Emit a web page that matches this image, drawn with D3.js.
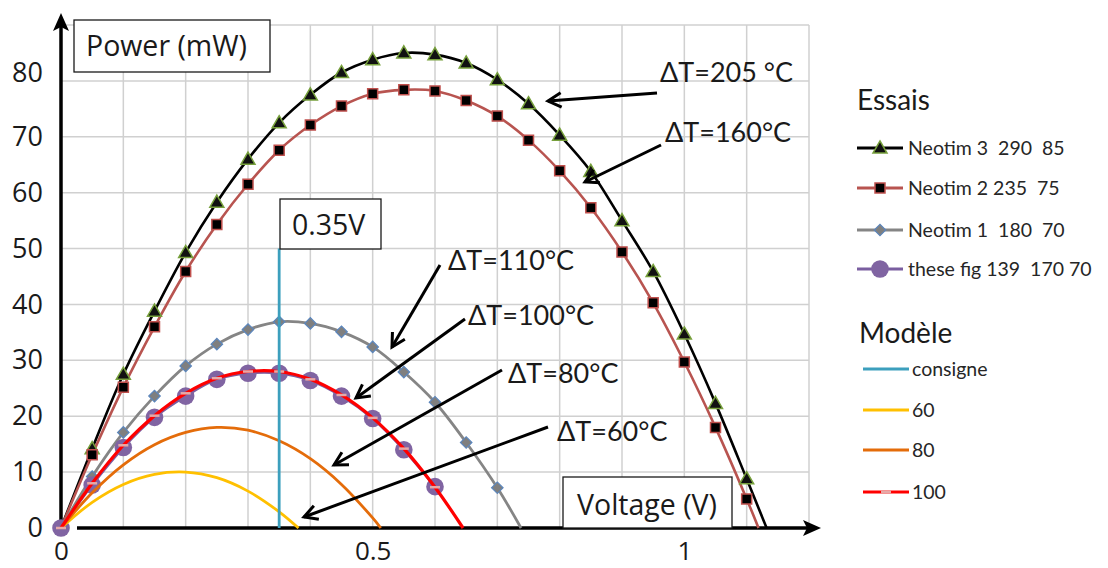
<!DOCTYPE html>
<html><head><meta charset="utf-8">
<script src="https://cdn.jsdelivr.net/npm/d3@7"></script>
<style>
html,body{margin:0;padding:0;background:#fff;}
svg{display:block;}
text{white-space:pre;}
</style></head>
<body><svg id="c" width="1108" height="568"></svg>
<script>
// ---------- data ----------
const xTickLabels = [0, 0.5, 1];
const yTickLabels = [0, 10, 20, 30, 40, 50, 60, 70, 80];
const gridV = [0.1,0.2,0.3,0.4,0.5,0.6,0.7,0.8,0.9,1.0,1.1,1.2];
const gridP = [10,20,30,40,50,60,70,80,90];

const seriesNames = ["Neotim 3  290  85", "Neotim 2 235  75", "Neotim 1  180  70", "these fig 139  170 70"];
const modelNames = ["consigne", "60", "80", "100"];

// measured voltages (V)
const neotim3V = [0.05,0.1,0.15,0.2,0.25,0.3,0.35,0.4,0.45,0.5,0.55,0.6,0.65,0.7,0.75,0.8,0.85,0.9,0.95,1.0,1.05,1.1];
const neotim3P = [14.2,27.5,38.8,49.3,58.3,66.0,72.5,77.5,81.5,83.8,85.0,84.7,83.2,80.2,75.9,70.3,63.8,55.0,45.9,34.7,22.3,8.8];
const neotim3Voc = 1.132;

const neotim2V = [0.05,0.1,0.15,0.2,0.25,0.3,0.35,0.4,0.45,0.5,0.55,0.6,0.65,0.7,0.75,0.8,0.85,0.9,0.95,1.0,1.05,1.1];
const neotim2P = [13.1,25.2,36.0,45.9,54.3,61.5,67.6,72.1,75.5,77.7,78.4,78.2,76.5,73.7,69.4,63.9,57.3,49.4,40.3,29.7,18.0,5.2];
const neotim2Voc = 1.119;

const neotim1V = [0.05,0.1,0.15,0.2,0.25,0.3,0.35,0.4,0.45,0.5,0.55,0.6,0.65,0.7];
const neotim1P = [9.2,17.1,23.6,29.0,32.9,35.5,36.9,36.6,35.1,32.4,27.9,22.5,15.3,7.2];
const neotim1Voc = 0.738;

const theseV = [0,0.05,0.1,0.15,0.2,0.25,0.3,0.35,0.4,0.45,0.5,0.55,0.6];
const theseP = [0,7.7,14.4,19.8,23.6,26.6,27.7,27.7,26.4,23.6,19.6,14.0,7.4];

// model curves
const model100V = [0,0.05,0.1,0.15,0.2,0.25,0.3,0.35,0.4,0.45,0.5,0.55,0.6,0.645];
const model100P = [0,8.0,14.8,20.1,24.1,26.8,28.0,28.0,26.6,23.8,19.7,14.2,7.3,0];
const model80V = [0,0.05,0.1,0.15,0.2,0.25,0.3,0.35,0.4,0.45,0.5,0.513];
const model80P = [0,6.3,11.3,14.9,17.1,18.0,17.5,15.6,12.4,7.8,1.8,0];
const model60V = [0,0.05,0.1,0.15,0.2,0.25,0.3,0.35,0.381];
const model60P = [0,4.6,7.8,9.6,10.0,9.0,6.6,2.9,0];
const consigneV = [0.35,0.35];
const consigneP = [0,50];

const annotations = ["\u0394T=205 \u00B0C","\u0394T=160\u00B0C","\u0394T=110\u00B0C","\u0394T=100\u00B0C","\u0394T=80\u00B0C","\u0394T=60\u00B0C"];

// ---------- drawing ----------
const svg = d3.select("#c");
const x = d3.scaleLinear().domain([0,1.2]).range([61,809]);
const y = d3.scaleLinear().domain([0,90]).range([528,25]);
const FONT = "'Open Sans', 'Noto Sans', sans-serif";
const CAL = "Lato, 'Open Sans', sans-serif";

// grid
svg.append("g").selectAll("line").data(gridV).join("line")
  .attr("x1",d=>x(d)).attr("x2",d=>x(d)).attr("y1",y(0)).attr("y2",y(90))
  .attr("stroke","#d0d0d0").attr("stroke-width",1.5);
svg.append("g").selectAll("line").data(gridP).join("line")
  .attr("x1",x(0)).attr("x2",x(1.2)).attr("y1",d=>y(d)).attr("y2",d=>y(d))
  .attr("stroke","#d0d0d0").attr("stroke-width",1.5);

// axes tick labels
const yAxis = d3.axisLeft(y).tickValues(yTickLabels).tickSize(0).tickPadding(18).tickFormat(d3.format("d"));
const gy = svg.append("g").attr("transform",`translate(${x(0)},0)`).call(yAxis);
gy.select(".domain").remove();
gy.selectAll("text").attr("font-family",FONT).attr("font-size",27).attr("fill","#1a1a1a");
gy.selectAll(".tick").filter(d=>d===80).select("text").attr("dy","0.02em");

const xAxis = d3.axisBottom(x).tickValues(xTickLabels).tickSize(0).tickPadding(14).tickFormat(d=>String(d));
const gx = svg.append("g").attr("transform",`translate(0,${y(0)})`).call(xAxis);
gx.select(".domain").remove();
gx.selectAll("text").attr("font-family",FONT).attr("font-size",26).attr("fill","#1a1a1a");

// axis arrows
svg.append("line").attr("x1",x(0)).attr("x2",x(0)).attr("y1",y(0)).attr("y2",20)
  .attr("stroke","#000").attr("stroke-width",3.5);
svg.append("path").attr("d",`M${x(0)},13 L${x(0)-8},31 L${x(0)},27 L${x(0)+8},31 Z`).attr("fill","#000");
svg.append("line").attr("x1",77).attr("x2",815).attr("y1",y(0)).attr("y2",y(0))
  .attr("stroke","#000").attr("stroke-width",3.5);
svg.append("path").attr("d",`M821,${y(0)} L803,${y(0)-8} L807,${y(0)} L803,${y(0)+8} Z`).attr("fill","#000");

// helpers
const pts = (V,P) => V.map((v,i)=>[v,P[i]]);
const line = d3.line().x(d=>x(d[0])).y(d=>y(d[1])).curve(d3.curveCatmullRom.alpha(0.5));
function full(V,P,voc){ return [[0,0]].concat(pts(V,P)).concat(voc!=null?[[voc,0]]:[]); }

const g = svg.append("g");
// Neotim 3
g.append("path").attr("d",line(full(neotim3V,neotim3P,neotim3Voc))).attr("fill","none").attr("stroke","#000").attr("stroke-width",2.6);
// Neotim 2
g.append("path").attr("d",line(full(neotim2V,neotim2P,neotim2Voc))).attr("fill","none").attr("stroke","#b85450").attr("stroke-width",2.6);
// Neotim 1
g.append("path").attr("d",line(full(neotim1V,neotim1P,neotim1Voc))).attr("fill","none").attr("stroke","#858585").attr("stroke-width",2.8);

const tri = d3.symbol().type(d3.symbolTriangle).size(85);
const sq = d3.symbol().type(d3.symbolSquare).size(100);
const dia = d3.symbol().type(d3.symbolSquare).size(66);

g.append("g").selectAll("path").data(pts(neotim3V,neotim3P)).join("path")
  .attr("d",tri).attr("transform",d=>`translate(${x(d[0])},${y(d[1])+1})`)
  .attr("fill","#111").attr("stroke","#77a03c").attr("stroke-width",1.5);
g.append("g").selectAll("path").data(pts(neotim2V,neotim2P)).join("path")
  .attr("d",sq).attr("transform",d=>`translate(${x(d[0])},${y(d[1])})`)
  .attr("fill","#000").attr("stroke","#c0504d").attr("stroke-width",1.5);
g.append("g").selectAll("path").data(pts(neotim1V,neotim1P)).join("path")
  .attr("d",dia).attr("transform",d=>`translate(${x(d[0])},${y(d[1])}) rotate(45)`)
  .attr("fill","#7f7f7f").attr("stroke","#5b86bd").attr("stroke-width",1.2);

// these fig
g.append("path").attr("d",line(pts(theseV,theseP))).attr("fill","none").attr("stroke","#7a5ea0").attr("stroke-width",2.6);
g.append("g").selectAll("circle").data(pts(theseV,theseP)).join("circle")
  .attr("cx",d=>x(d[0])).attr("cy",d=>y(d[1])).attr("r",8.8).attr("fill","#8064a2");

// models
g.append("path").attr("d",line(pts(model60V,model60P))).attr("fill","none").attr("stroke","#ffc000").attr("stroke-width",2.8);
g.append("path").attr("d",line(pts(model80V,model80P))).attr("fill","none").attr("stroke","#e46c0a").attr("stroke-width",2.8);
g.append("path").attr("d",line(pts(model100V,model100P))).attr("fill","none").attr("stroke","#ff0000").attr("stroke-width",3.2);
g.append("g").selectAll("line").data(pts(model100V.slice(0,-1),model100P.slice(0,-1))).join("line")
  .attr("x1",d=>x(d[0])-5).attr("x2",d=>x(d[0])+5).attr("y1",d=>y(d[1])).attr("y2",d=>y(d[1]))
  .attr("stroke","#e6a9a8").attr("stroke-width",2.5);
// consigne
g.append("line").attr("x1",x(consigneV[0])).attr("x2",x(consigneV[1])).attr("y1",y(consigneP[0])).attr("y2",y(consigneP[1]))
  .attr("stroke","#3c9fbd").attr("stroke-width",2.8);

// boxes
function box(x0,y0,w,h,label,tx,ty){
  svg.append("rect").attr("x",x0).attr("y",y0).attr("width",w).attr("height",h)
    .attr("fill","#fff").attr("stroke","#1a1a1a").attr("stroke-width",1.3);
  svg.append("text").attr("x",tx).attr("y",ty).text(label)
    .attr("font-family",FONT).attr("font-size",28.5).attr("fill","#1a1a1a");
}
box(74,20,196,52,"Power (mW)",86,56);
box(280,199,101,50,"0.35V",292,235);
box(563,477,169,51,"Voltage (V)",577,515);

// annotations with arrows
const ann = [
  {t:annotations[0], tx:660, ty:82, x1:657, y1:93, x2:548, y2:101},
  {t:annotations[1], tx:665, ty:142, x1:661, y1:145, x2:585, y2:182},
  {t:annotations[2], tx:448, ty:270, x1:440, y1:265, x2:392, y2:347},
  {t:annotations[3], tx:468, ty:325, x1:465, y1:319, x2:356, y2:398},
  {t:annotations[4], tx:508, ty:383, x1:502, y1:370, x2:334, y2:465},
  {t:annotations[5], tx:557, ty:441, x1:548, y1:427, x2:304, y2:517}
];
const ag = svg.append("g");
ann.forEach(a=>{
  ag.append("text").attr("x",a.tx).attr("y",a.ty).text(a.t)
    .attr("font-family",CAL).attr("font-size",27).attr("fill","#1a1a1a");
  ag.append("line").attr("x1",a.x1).attr("y1",a.y1).attr("x2",a.x2).attr("y2",a.y2)
    .attr("stroke","#000").attr("stroke-width",3);
  const ang = Math.atan2(a.y1-a.y2, a.x1-a.x2);
  const L = 15, s = 0.5;
  const p1 = [a.x2+L*Math.cos(ang+s), a.y2+L*Math.sin(ang+s)];
  const p2 = [a.x2+L*Math.cos(ang-s), a.y2+L*Math.sin(ang-s)];
  ag.append("path").attr("d",`M${p1[0]},${p1[1]} L${a.x2},${a.y2} L${p2[0]},${p2[1]}`)
    .attr("fill","none").attr("stroke","#000").attr("stroke-width",3).attr("stroke-linejoin","miter");
});

// legend
const lg = svg.append("g");
lg.append("text").attr("x",857).attr("y",110).text("Essais").attr("font-family",CAL).attr("font-size",28).attr("fill","#1a1a1a");
const essRows = [148,188,230,269];
const essStyle = [
  {stroke:"#000", mk:"tri"}, {stroke:"#b85450", mk:"sq"}, {stroke:"#858585", mk:"dia"}, {stroke:"#7a5ea0", mk:"circ"}
];
seriesNames.forEach((n,i)=>{
  const yy = essRows[i];
  lg.append("line").attr("x1",857).attr("x2",903).attr("y1",yy).attr("y2",yy).attr("stroke",essStyle[i].stroke).attr("stroke-width",3);
  const m = essStyle[i].mk;
  if(m==="tri") lg.append("path").attr("d",tri).attr("transform",`translate(880,${yy+1})`).attr("fill","#111").attr("stroke","#77a03c").attr("stroke-width",1.5);
  if(m==="sq") lg.append("path").attr("d",sq).attr("transform",`translate(880,${yy})`).attr("fill","#000").attr("stroke","#c0504d").attr("stroke-width",1.5);
  if(m==="dia") lg.append("path").attr("d",dia).attr("transform",`translate(880,${yy}) rotate(45)`).attr("fill","#7f7f7f").attr("stroke","#5b86bd").attr("stroke-width",1.2);
  if(m==="circ") lg.append("circle").attr("cx",880).attr("cy",yy).attr("r",8.8).attr("fill","#8064a2");
  lg.append("text").attr("x",908).attr("y",yy+7).text(n).attr("font-family",CAL).attr("font-size",19.5).attr("fill","#262626");
});
lg.append("text").attr("x",859).attr("y",343).text("Mod\u00E8le").attr("font-family",CAL).attr("font-size",28).attr("fill","#1a1a1a");
const modRows = [369,410,450,492];
const modColors = ["#3c9fbd","#ffc000","#e46c0a","#ff0000"];
modelNames.forEach((n,i)=>{
  const yy = modRows[i];
  lg.append("line").attr("x1",863).attr("x2",909).attr("y1",yy).attr("y2",yy).attr("stroke",modColors[i]).attr("stroke-width",3);
  if(i===3) lg.append("line").attr("x1",881).attr("x2",891).attr("y1",yy).attr("y2",yy).attr("stroke","#e6a9a8").attr("stroke-width",3);
  lg.append("text").attr("x",912).attr("y",yy+7).text(n).attr("font-family",CAL).attr("font-size",19.5).attr("fill","#262626");
});
</script></body></html>
